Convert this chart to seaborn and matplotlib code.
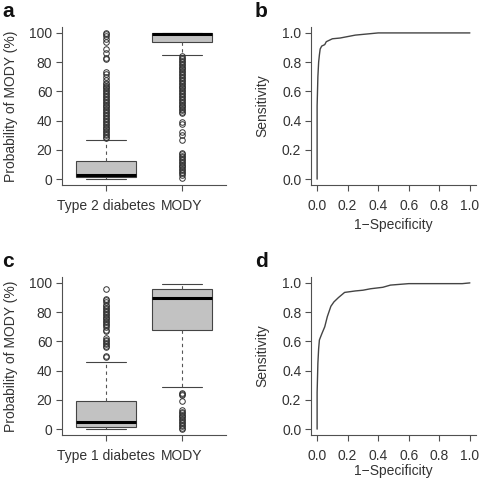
import matplotlib
matplotlib.use("Agg")
import matplotlib.pyplot as plt
import seaborn as sns
import pandas as pd

# ---------------- data ----------------
groups_a = ["Type 2 diabetes", "MODY"]
groups_c = ["Type 1 diabetes", "MODY"]

# box statistics (q1, median, q3, lower whisker, upper whisker)
t2_stats = [1.5, 3.0, 12.3, 0.3, 27.0]
modya_stats = [94.0, 99.5, 100.0, 85.0, 100.0]
t1_stats = [1.2, 5.0, 19.5, 0.0, 46.0]
modyc_stats = [68.0, 89.5, 95.8, 29.0, 99.0]

t2_fliers = [100, 99, 98, 96, 94, 89, 86, 83, 82, 73, 72, 70, 68, 66, 65, 64, 63,
             62, 61, 60, 59, 58, 57, 56, 55, 54, 53, 52, 51, 50, 49, 48, 47, 46,
             45, 44, 43, 42, 41, 40, 39, 38, 37, 36, 35, 34, 33, 32, 31, 30, 29, 28]
modya_fliers = [84, 83, 82, 81, 80, 79, 78, 77, 76, 75, 74, 73, 72, 71, 70, 69, 68,
                67, 66, 65, 64, 63, 62, 61, 60, 59, 58, 57, 56, 55, 54, 53, 52, 51,
                50, 49, 48, 47, 46, 45, 39, 38, 32, 30, 27, 18, 17, 16, 15, 14, 13,
                12, 11, 10, 9, 8, 7, 6, 5, 4, 3, 1]
t1_fliers = [96, 89, 88, 87, 85, 84, 83, 82, 81, 80, 79, 78, 77, 76, 75, 74, 73,
             72, 71, 70, 68, 67, 62, 61, 60, 59, 58, 57, 56, 50, 49]
modyc_fliers = [25, 24, 23, 19, 13, 12, 11, 10, 9, 8, 7, 6, 5, 4, 3, 2, 1, 0]

roc_b_fpr = [0, 0, 0.005, 0.01, 0.015, 0.02, 0.03, 0.05, 0.06, 0.08, 0.10, 0.15,
             0.20, 0.25, 0.30, 0.40, 1.0]
roc_b_tpr = [0, 0.50, 0.70, 0.80, 0.85, 0.89, 0.91, 0.92, 0.94, 0.95, 0.96, 0.965,
             0.975, 0.985, 0.99, 1.0, 1.0]

roc_d_fpr = [0, 0, 0.005, 0.01, 0.015, 0.03, 0.05, 0.067, 0.09, 0.11, 0.14, 0.18,
             0.25, 0.30, 0.35, 0.43, 0.48, 0.60, 0.95, 1.0]
roc_d_tpr = [0, 0.25, 0.45, 0.55, 0.61, 0.65, 0.70, 0.77, 0.84, 0.87, 0.90, 0.935,
             0.945, 0.95, 0.96, 0.97, 0.985, 0.995, 0.995, 1.0]

box_ticks = [0, 20, 40, 60, 80, 100]
roc_ticks = [0.0, 0.2, 0.4, 0.6, 0.8, 1.0]
roc_ticklabels = ["0.0", "0.2", "0.4", "0.6", "0.8", "1.0"]

# ---------------- style ----------------
sns.set_style("ticks")
plt.rcParams["font.family"] = ["Liberation Sans", "DejaVu Sans"]
TXT = "#333333"
LINE = "#505050"
FS = 10

fig = plt.figure(figsize=(4.83, 4.80), dpi=100)

pos = {
    "a": [0.1284, 0.6146, 0.3395, 0.329],
    "b": [0.6439, 0.6146, 0.3416, 0.329],
    "c": [0.1284, 0.0938, 0.3395, 0.329],
    "d": [0.6439, 0.0938, 0.3416, 0.329],
}


def style_axes(ax):
    for s in ["top", "right"]:
        ax.spines[s].set_visible(False)
    for s in ["left", "bottom"]:
        ax.spines[s].set_color(LINE)
        ax.spines[s].set_linewidth(0.8)
    ax.tick_params(axis="both", direction="out", length=4.5, width=0.8,
                   color=LINE, labelcolor=TXT, labelsize=FS)
    ax.tick_params(axis="y", pad=2.5)
    ax.tick_params(axis="x", pad=5.5)


def mkstats(st, fl, lab):
    q1, med, q3, lo, hi = st
    return dict(q1=q1, med=med, q3=q3, whislo=lo, whishi=hi, fliers=fl, label=lab)


def box_panel(key, labels, s1, f1, s2, f2):
    ax = fig.add_axes(pos[key])
    stats = [mkstats(s1, f1, labels[0]), mkstats(s2, f2, labels[1])]
    ax.bxp(stats, positions=[1, 2], widths=0.8, patch_artist=True,
           capwidths=0.53,
           boxprops=dict(facecolor="#c2c2c2", edgecolor="#444444", linewidth=0.8),
           medianprops=dict(color="black", linewidth=2.2, solid_capstyle="butt"),
           whiskerprops=dict(color="#555555", linewidth=0.8, linestyle=(0, (3, 3))),
           capprops=dict(color="#444444", linewidth=0.8),
           flierprops=dict(marker="o", markerfacecolor="none",
                           markeredgecolor="#333333", markersize=4,
                           markeredgewidth=0.7, linestyle="none"))
    ax.set_xlim(0.42, 2.58)
    ax.set_ylim(-4, 104)
    ax.set_yticks(box_ticks)
    ax.set_xticks([1, 2])
    ax.set_xticklabels(labels)
    ax.set_ylabel("Probability of MODY (%)", fontsize=FS, color=TXT)
    ax.yaxis.set_label_coords(-0.27, 0.5)
    style_axes(ax)
    return ax


def roc_panel(key, fpr, tpr, xlab_y):
    ax = fig.add_axes(pos[key])
    df = pd.DataFrame({"fpr": fpr, "tpr": tpr})
    sns.lineplot(data=df, x="fpr", y="tpr", ax=ax, estimator=None, sort=False,
                 color="#444444", linewidth=1.0)
    ax.set_xlim(-0.04, 1.04)
    ax.set_ylim(-0.04, 1.04)
    ax.set_xticks(roc_ticks)
    ax.set_xticklabels(roc_ticklabels)
    ax.set_yticks(roc_ticks)
    ax.set_yticklabels(roc_ticklabels)
    ax.set_xlabel("1\u2212Specificity", fontsize=FS, color=TXT)
    ax.set_ylabel("Sensitivity", fontsize=FS, color=TXT)
    ax.yaxis.set_label_coords(-0.255, 0.5)
    ax.xaxis.set_label_coords(0.5, xlab_y)
    style_axes(ax)
    return ax


box_panel("a", groups_a, t2_stats, t2_fliers, modya_stats, modya_fliers)
roc_panel("b", roc_b_fpr, roc_b_tpr, -0.21)
box_panel("c", groups_c, t1_stats, t1_fliers, modyc_stats, modyc_fliers)
roc_panel("d", roc_d_fpr, roc_d_tpr, -0.185)

for letter, x, y in [("a", 0.005, 0.995), ("b", 0.528, 0.995),
                     ("c", 0.005, 0.475), ("d", 0.528, 0.475)]:
    fig.text(x, y, letter, fontsize=15, fontweight="bold", color="#111111",
             ha="left", va="top")

fig.savefig("out.png", dpi=100)
